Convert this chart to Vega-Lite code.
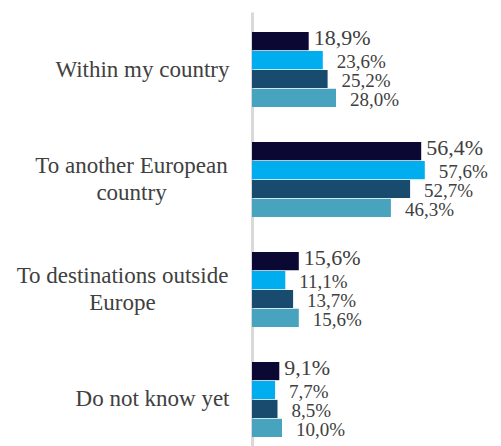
{
  "$schema": "https://vega.github.io/schema/vega-lite/v6.json",
  "autosize": "none",
  "width": 249,
  "height": 434,
  "padding": {"left": 252, "top": 12, "right": 0, "bottom": 0},
  "background": "white",
  "config": {"view": {"stroke": null}, "font": "'Liberation Serif', 'DejaVu Serif', serif"},
  "data": {
    "values": [
      {"cat": "Within my country", "series": "S1", "value": 18.9, "label": "18,9%"},
      {"cat": "Within my country", "series": "S2", "value": 23.6, "label": "23,6%"},
      {"cat": "Within my country", "series": "S3", "value": 25.2, "label": "25,2%"},
      {"cat": "Within my country", "series": "S4", "value": 28.0, "label": "28,0%"},
      {"cat": "To another European country", "series": "S1", "value": 56.4, "label": "56,4%"},
      {"cat": "To another European country", "series": "S2", "value": 57.6, "label": "57,6%"},
      {"cat": "To another European country", "series": "S3", "value": 52.7, "label": "52,7%"},
      {"cat": "To another European country", "series": "S4", "value": 46.3, "label": "46,3%"},
      {"cat": "To destinations outside Europe", "series": "S1", "value": 15.6, "label": "15,6%"},
      {"cat": "To destinations outside Europe", "series": "S2", "value": 11.1, "label": "11,1%"},
      {"cat": "To destinations outside Europe", "series": "S3", "value": 13.7, "label": "13,7%"},
      {"cat": "To destinations outside Europe", "series": "S4", "value": 15.6, "label": "15,6%"},
      {"cat": "Do not know yet", "series": "S1", "value": 9.1, "label": "9,1%"},
      {"cat": "Do not know yet", "series": "S2", "value": 7.7, "label": "7,7%"},
      {"cat": "Do not know yet", "series": "S3", "value": 8.5, "label": "8,5%"},
      {"cat": "Do not know yet", "series": "S4", "value": 10.0, "label": "10,0%"}
    ]
  },
  "encoding": {
    "y": {
      "field": "cat",
      "type": "nominal",
      "sort": ["Within my country", "To another European country", "To destinations outside Europe", "Do not know yet"],
      "scale": {"paddingInner": 0.318, "paddingOuter": 0.132, "align": 0.69},
      "axis": {
        "title": null,
        "ticks": false,
        "grid": false,
        "domainColor": "#d9d9d9",
        "domainWidth": 3,
        "labelFont": "'Liberation Serif', 'DejaVu Serif', serif",
        "labelFontSize": 23,
        "labelColor": "#404040",
        "labelLineHeight": 27,
        "labelLimit": 260,
        "labelExpr": "datum.value == 'To another European country' ? ['To another European', 'country'] : datum.value == 'To destinations outside Europe' ? ['To destinations outside', 'Europe'] : datum.value",
        "labelAlign": {"condition": {"test": "indexof(datum.value, 'To ') == 0", "value": "center"}, "value": "right"},
        "labelOffset": {"condition": {"test": "indexof(datum.value, 'To ') == 0", "value": -14}, "value": 0},
        "labelPadding": {"condition": [
          {"test": "datum.value == 'To another European country'", "value": 121},
          {"test": "datum.value == 'To destinations outside Europe'", "value": 130}
        ], "value": 23}
      }
    },
    "yOffset": {
      "field": "series",
      "type": "nominal",
      "sort": ["S1", "S2", "S3", "S4"],
      "scale": {"paddingInner": 0.04}
    },
    "x": {
      "field": "value",
      "type": "quantitative",
      "scale": {"domain": [0, 83]},
      "axis": null
    }
  },
  "layer": [
    {
      "mark": {"type": "bar"},
      "encoding": {
        "color": {
          "field": "series",
          "type": "nominal",
          "scale": {"domain": ["S1", "S2", "S3", "S4"], "range": ["#0b0933", "#00aeef", "#184b6d", "#48a3bf"]},
          "legend": null
        }
      }
    },
    {
      "transform": [{"filter": "datum.series == 'S1'"}],
      "mark": {"type": "text", "align": "left", "baseline": "middle", "dx": 5, "dy": -3, "fontSize": 22, "color": "#404040"},
      "encoding": {"text": {"field": "label"}}
    },
    {
      "transform": [{"filter": "datum.series != 'S1'"}],
      "mark": {"type": "text", "align": "left", "baseline": "middle", "dx": 14, "dy": 2, "fontSize": 19, "color": "#404040"},
      "encoding": {"text": {"field": "label"}}
    }
  ]
}
